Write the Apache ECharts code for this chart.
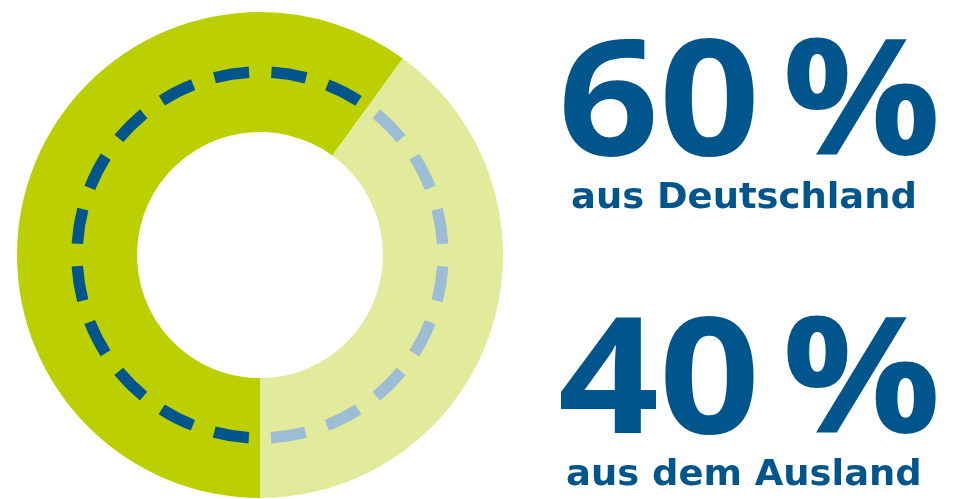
<!DOCTYPE html>
<html>
<head>
<meta charset="utf-8">
<script src="https://cdn.jsdelivr.net/npm/echarts@6/dist/echarts.min.js"></script>
<style>
html,body{margin:0;padding:0;background:#fff;}
#chart{width:954px;height:499px;}
</style>
</head>
<body>
<div id="chart"></div>
<script>
// ---- data ----
const categories = ['aus Deutschland', 'aus dem Ausland'];
const shares = [60, 40];
const percentSign = '%';

// ---- styles ----
const ringColors = ['#BCCF00', '#E2EA9B'];
const dashColors = ['#00568C', '#9DBCD5'];
const textColor = '#00568C';
const CX = 260, CY = 255;

const total = shares.reduce((a, b) => a + b, 0);

const chart = echarts.init(document.getElementById('chart'), null, {renderer: 'canvas'});

function dashArc(i) {
  let before = 0;
  for (let k = 0; k < i; k++) before += shares[k];
  const start = Math.PI / 2 + before / total * Math.PI * 2;
  const end = start + shares[i] / total * Math.PI * 2;
  const r = 183;
  const len = r * (end - start);
  const n = Math.round(shares[i] / 5);
  const period = len / n;
  const dash = period * 0.61;
  const gap = period - dash;
  return {
    type: 'arc',
    z: 10,
    silent: true,
    shape: {cx: CX, cy: CY, r: r, startAngle: start, endAngle: end, clockwise: true},
    style: {stroke: dashColors[i], fill: 'none', lineWidth: 11.5, lineDash: [dash, gap], lineDashOffset: dash + gap / 2, lineCap: 'butt'}
  };
}

const bigTop = [27.5, 305.5];
const labelTop = [181, 458];
const labelX = [571, 566];

const graphics = [];
shares.forEach((v, i) => {
  graphics.push(dashArc(i));
  graphics.push({type: 'text', x: 558, y: bigTop[i], scaleX: 1.09, z: 20,
    style: {text: String(v), fontFamily: 'Open Sans', fontWeight: 'bold', fontSize: 162, fill: textColor, textVerticalAlign: 'top', verticalAlign: 'top'}});
  graphics.push({type: 'text', x: 782, y: bigTop[i], scaleX: 1.09, z: 20,
    style: {text: percentSign, fontFamily: 'Open Sans', fontWeight: 'bold', fontSize: 162, fill: textColor, textVerticalAlign: 'top', verticalAlign: 'top'}});
  graphics.push({type: 'text', x: labelX[i], y: labelTop[i], scaleX: 1.025, z: 20,
    style: {text: categories[i], fontFamily: 'DejaVu Sans', fontWeight: 'bold', fontSize: 36, fill: textColor, textVerticalAlign: 'top', verticalAlign: 'top'}});
});

chart.setOption({
  animation: false,
  series: [
    {
      type: 'pie',
      center: [CX, CY],
      radius: [123, 243],
      startAngle: 270,
      clockwise: true,
      silent: true,
      label: {show: false},
      labelLine: {show: false},
      emphasis: {disabled: true},
      data: categories.map((c, i) => ({name: c, value: shares[i], itemStyle: {color: ringColors[i]}}))
    }
  ],
  graphic: graphics
});
</script>
</body>
</html>
